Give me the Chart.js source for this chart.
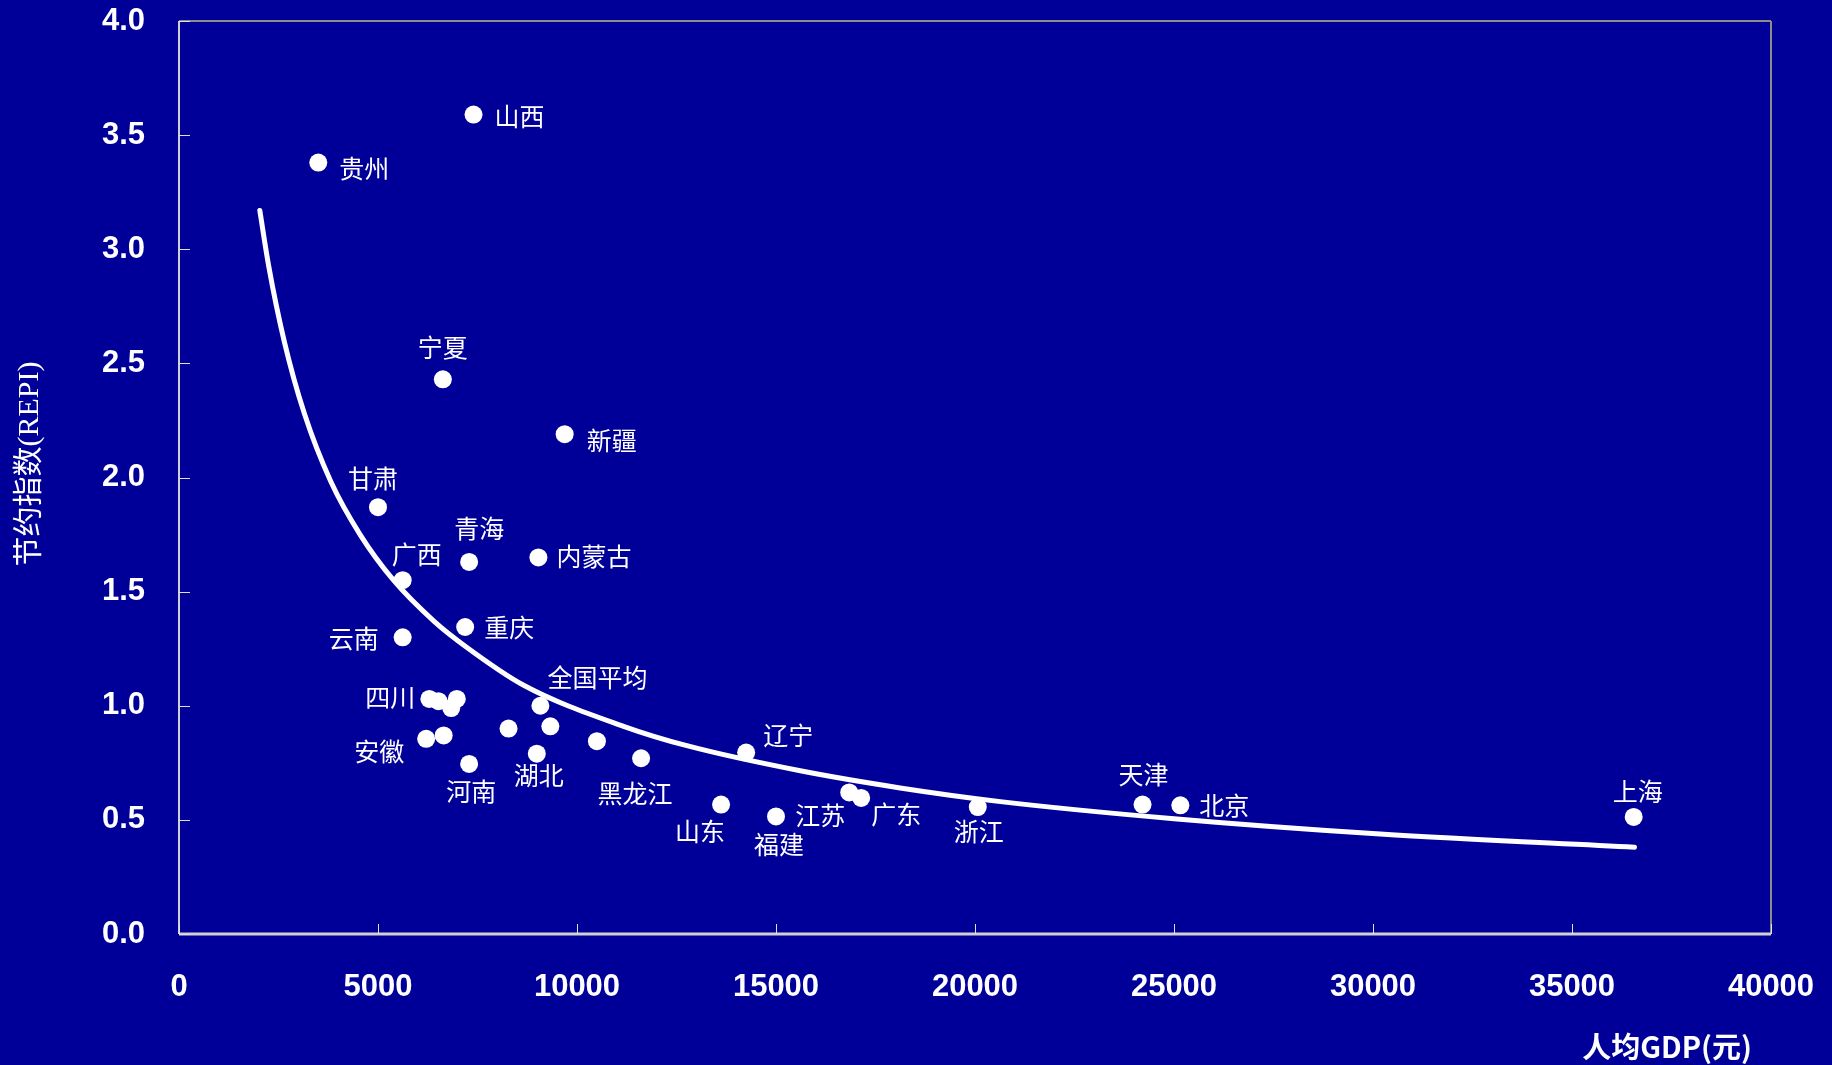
<!DOCTYPE html>
<html>
<head>
    <title>节约指数与人均GDP</title>
    <script src="https://cdn.jsdelivr.net/npm/chart.js"></script>
    <style>
        body {
            margin: 0;
            background: #000099;
            overflow: hidden;
        }
        #wrap {
            width: 1832px;
            height: 1065px;
        }
    </style>
</head>
<body>
    <div id="wrap">
        <canvas id="repiChart" width="1832" height="1065"></canvas>
    </div>

    <script>
        // provinces (empty name = unlabelled point)
        const provinces = ['贵州', '山西', '宁夏', '新疆', '甘肃', '青海', '内蒙古', '广西', '云南', '重庆',
            '四川', '', '', '', '全国平均', '安徽', '', '河南', '', '湖北', '', '', '黑龙江',
            '辽宁', '山东', '福建', '江苏', '广东', '浙江', '天津', '北京', '上海'];
        // per capita GDP (yuan)
        const gdp = [3500, 7400, 6630, 9690, 5000, 7290, 9030, 5620, 5620, 7190,
            6290, 6520, 6840, 6980, 9080, 6210, 6650, 7290, 8280, 8990, 9330, 10500, 11610,
            14250, 13620, 15000, 16840, 17140, 20070, 24210, 25160, 36550];
        // REPI
        const repi = [3.38, 3.59, 2.43, 2.19, 1.87, 1.63, 1.65, 1.55, 1.30, 1.345,
            1.03, 1.02, 0.99, 1.03, 1.00, 0.855, 0.87, 0.745, 0.90, 0.79, 0.91, 0.845, 0.77,
            0.795, 0.567, 0.515, 0.62, 0.596, 0.556, 0.567, 0.564, 0.513];

        // trend curve
        const curveGdp = [2030, 2250, 2640, 3150, 3820, 4550, 5390, 6410, 7200, 8660,
            11170, 12760, 15610, 18120, 20640, 25000, 30180, 36570];
        const curveRepi = [3.17, 2.93, 2.60, 2.28, 1.98, 1.75, 1.55, 1.37, 1.26, 1.09,
            0.91, 0.825, 0.715, 0.64, 0.58, 0.505, 0.438, 0.38];

        const xTicks = [0, 5000, 10000, 15000, 20000, 25000, 30000, 35000, 40000];
        const yTicks = [0, 0.5, 1.0, 1.5, 2.0, 2.5, 3.0, 3.5, 4.0];

        // where each name sits next to its point: [align, dx, dy]
        const labelPlace = {
            '贵州': ['left', 21, 6], '山西': ['left', 21, 2], '宁夏': ['center', 0, -32],
            '新疆': ['left', 22, 6], '甘肃': ['center', -5, -29], '青海': ['center', 10, -33],
            '内蒙古': ['left', 18, -1], '广西': ['center', 14, -26], '云南': ['right', -24, 1],
            '重庆': ['left', 19, 0], '四川': ['right', -14, -1], '全国平均': ['left', 7, -28],
            '安徽': ['right', -22, 13], '河南': ['center', 2, 28], '湖北': ['center', 2, 22],
            '黑龙江': ['center', -6, 35], '辽宁': ['left', 17, -17], '山东': ['center', -21, 27],
            '福建': ['center', 3, 28], '江苏': ['center', -29, 23], '广东': ['center', 35, 17],
            '浙江': ['center', 1, 24], '天津': ['center', 1, -30], '北京': ['left', 19, 0],
            '上海': ['center', 4, -25]
        };

        const points = gdp.map((g, i) => ({ x: g, y: repi[i] }));
        const curve = curveGdp.map((g, i) => ({ x: g, y: curveRepi[i] }));

        // background, frame and inward tick marks
        const framePlugin = {
            id: 'frame',
            beforeDraw(chart) {
                const c = chart.ctx;
                c.save();
                c.fillStyle = '#000099';
                c.fillRect(0, 0, chart.width, chart.height);
                c.restore();
            },
            beforeDatasetsDraw(chart) {
                const c = chart.ctx;
                const a = chart.chartArea;
                const xs = chart.scales.x, ys = chart.scales.y;
                c.save();
                c.strokeStyle = '#8c8c8c';
                c.lineWidth = 2;
                c.beginPath();
                c.moveTo(a.left, a.top); c.lineTo(a.right, a.top);
                c.moveTo(a.right, a.top); c.lineTo(a.right, a.bottom);
                c.stroke();
                c.strokeStyle = '#d0d0d0';
                c.beginPath();
                c.moveTo(a.left, a.top); c.lineTo(a.left, a.bottom);
                c.stroke();
                c.lineWidth = 3;
                c.beginPath();
                c.moveTo(a.left, a.bottom); c.lineTo(a.right, a.bottom);
                c.stroke();
                c.lineWidth = 1;
                c.strokeStyle = '#e0e0e0';
                c.beginPath();
                yTicks.forEach(v => {
                    const py = Math.round(ys.getPixelForValue(v)) + 0.5;
                    c.moveTo(a.left, py); c.lineTo(a.left + 11, py);
                });
                xTicks.forEach(v => {
                    const px = Math.round(xs.getPixelForValue(v)) + 0.5;
                    c.moveTo(px, a.bottom); c.lineTo(px, a.bottom - 10);
                });
                c.stroke();
                c.restore();
            },
            afterDatasetsDraw(chart) {
                const c = chart.ctx;
                const xs = chart.scales.x, ys = chart.scales.y;
                c.save();
                c.fillStyle = '#ffffff';
                c.font = '25px "Noto Sans CJK SC", sans-serif';
                c.textBaseline = 'middle';
                provinces.forEach((name, i) => {
                    if (!name) return;
                    const p = labelPlace[name];
                    c.textAlign = p[0];
                    c.fillText(name, xs.getPixelForValue(gdp[i]) + p[1], ys.getPixelForValue(repi[i]) + p[2]);
                });

                // axis titles
                c.font = 'bold 29px "Noto Sans CJK SC", sans-serif';
                c.textAlign = 'right';
                c.fillText('人均GDP(元)', 1752, 1047);

                c.translate(30, 464);
                c.rotate(-Math.PI / 2);
                c.textAlign = 'center';
                c.font = '30px "Liberation Serif", "Noto Sans CJK SC", serif';
                c.fillText('节约指数(REPI)', 0, 0);
                c.restore();
            }
        };

        function noPad(s) {
            s.paddingLeft = 0;
            s.paddingRight = 0;
            s.paddingTop = 0;
            s.paddingBottom = 0;
        }

        const ctx = document.getElementById('repiChart').getContext('2d');
        const chart = new Chart(ctx, {
            type: 'scatter',
            data: {
                datasets: [{
                    label: '拟合曲线',
                    data: curve,
                    showLine: true,
                    borderColor: '#ffffff',
                    borderWidth: 5,
                    pointRadius: 0,
                    cubicInterpolationMode: 'monotone',
                    borderCapStyle: 'round'
                }, {
                    label: '省份',
                    data: points,
                    backgroundColor: '#ffffff',
                    borderWidth: 0,
                    pointRadius: 9,
                    pointHoverRadius: 9
                }]
            },
            options: {
                responsive: false,
                animation: false,
                devicePixelRatio: 1,
                layout: {
                    autoPadding: false,
                    padding: { top: 21, right: 61, left: 0, bottom: 0 }
                },
                plugins: {
                    legend: { display: false },
                    tooltip: { enabled: false }
                },
                scales: {
                    x: {
                        type: 'linear',
                        min: 0,
                        max: 40000,
                        grid: { display: false, drawTicks: false },
                        border: { display: false },
                        afterFit: s => { s.height = 131; noPad(s); },
                        afterBuildTicks: s => { s.ticks = xTicks.map(v => ({ value: v })); },
                        ticks: {
                            color: '#ffffff',
                            padding: 35,
                            maxRotation: 0,
                            font: { family: '"Liberation Sans", Arial, sans-serif', size: 31, weight: 'bold' },
                            callback: v => String(v)
                        }
                    },
                    y: {
                        type: 'linear',
                        min: 0,
                        max: 4,
                        grid: { display: false, drawTicks: false },
                        border: { display: false },
                        afterFit: s => { s.width = 179; noPad(s); },
                        afterBuildTicks: s => { s.ticks = yTicks.map(v => ({ value: v })); },
                        ticks: {
                            color: '#ffffff',
                            padding: 34,
                            font: { family: '"Liberation Sans", Arial, sans-serif', size: 31, weight: 'bold' },
                            callback: v => Number(v).toFixed(1)
                        }
                    }
                }
            },
            plugins: [framePlugin]
        });
    </script>
</body>
</html>
